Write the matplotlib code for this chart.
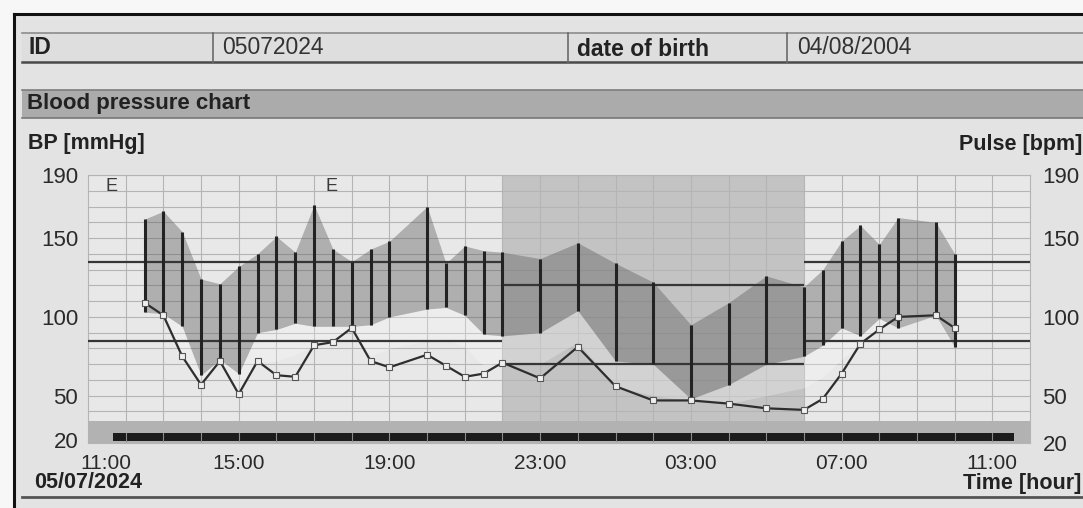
import numpy as np
import matplotlib
matplotlib.use("Agg")
import matplotlib.pyplot as plt
from matplotlib.patches import Rectangle
from matplotlib.lines import Line2D
from matplotlib.transforms import ScaledTranslation

plt.rcParams['font.family'] = ['Liberation Sans', 'DejaVu Sans']

# ---------------- data ----------------
times = ["12:30", "13:00", "13:30", "14:00", "14:30", "15:00", "15:30", "16:00",
         "16:30", "17:00", "17:30", "18:00", "18:30", "19:00", "20:00", "20:30",
         "21:00", "21:30", "22:00", "23:00", "00:00", "01:00", "02:00", "03:00",
         "04:00", "05:00", "06:00", "06:30", "07:00", "07:30", "08:00", "08:30",
         "09:30", "10:00"]
systolic = [162, 167, 154, 124, 121, 132, 140, 151, 141, 171, 143, 135, 143, 148,
            170, 134, 145, 142, 141, 137, 147, 134, 122, 95, 109, 126, 119, 130,
            148, 158, 146, 163, 160, 140]
diastolic = [103, 102, 94, 63, 73, 64, 90, 92, 96, 94, 94, 94, 95, 100,
             105, 106, 101, 89, 88, 90, 104, 72, 70, 48, 57, 70, 75, 82,
             93, 88, 99, 93, 101, 81]
pulse = [109, 101, 75, 57, 72, 51, 72, 63, 62, 82, 84, 93, 72, 68,
         76, 69, 62, 64, 71, 61, 81, 56, 47, 47, 45, 42, 41, 48,
         64, 83, 92, 100, 101, 93]
error_times = ["11:38", "17:28"]

x_tick_labels = ["11:00", "15:00", "19:00", "23:00", "03:00", "07:00", "11:00"]
y_ticks = [20, 50, 100, 150, 190]

night_start, night_end = "22:00", "06:00"
day_limits = (135, 85)
night_limits = (120, 70)
recording_start, recording_end = "11:40", "11:35"

patient_id = "05072024"
birth_date = "04/08/2004"
chart_date = "05/07/2024"

START_HOUR = 11


def hours(t):
    h, m = map(int, t.split(":"))
    v = h + m / 60 - START_HOUR
    if v < 0:
        v += 24
    return v


x = np.array([hours(t) for t in times])
sys_a = np.array(systolic, float)
dia_a = np.array(diastolic, float)
pul_a = np.array(pulse, float)

W, H = 1083, 508
fig = plt.figure(figsize=(W / 100, H / 100), dpi=100)
fig.patch.set_facecolor("#f7f7f7")


def fx(px):
    return px / W


def fy(py):
    return 1 - py / H


# page background with black frame
fig.add_artist(Rectangle((fx(14), 0), fx(W) - fx(14), fy(14), transform=fig.transFigure,
                         facecolor="#e3e3e3", edgecolor="none", zorder=0))
fig.add_artist(Line2D([fx(14), 1], [fy(14), fy(14)], transform=fig.transFigure,
                      color="#111111", lw=2.2))
fig.add_artist(Line2D([fx(14), fx(14)], [0, fy(14)], transform=fig.transFigure,
                      color="#111111", lw=2.2))

# info row
fig.add_artist(Rectangle((fx(22), fy(62)), 1 - fx(22), fy(33) - fy(62), transform=fig.transFigure,
                         facecolor="#dedede", edgecolor="none", zorder=1))
fig.add_artist(Line2D([fx(22), 1], [fy(33), fy(33)], transform=fig.transFigure, color="#8c8c8c", lw=1.2))
fig.add_artist(Line2D([fx(22), 1], [fy(62), fy(62)], transform=fig.transFigure, color="#4a4a4a", lw=1.8))
for sx in (213, 568, 787):
    fig.add_artist(Line2D([fx(sx), fx(sx)], [fy(62), fy(33)], transform=fig.transFigure,
                          color="#6a6a6a", lw=1.2))
txt_kw = dict(transform=fig.transFigure, va="center", color="#222222", fontsize=16.5)
fig.text(fx(28), fy(48), "ID", fontweight="bold", **txt_kw)
fig.text(fx(222), fy(48), patient_id, **dict(txt_kw, color="#333333"))
fig.text(fx(577), fy(49), "date of birth", fontweight="bold", **txt_kw)
fig.text(fx(797), fy(48), birth_date, **dict(txt_kw, color="#333333"))

# header band
fig.add_artist(Rectangle((fx(22), fy(118)), 1 - fx(22), fy(90) - fy(118), transform=fig.transFigure,
                         facecolor="#ababab", edgecolor="none", zorder=1))
fig.add_artist(Line2D([fx(22), 1], [fy(90), fy(90)], transform=fig.transFigure, color="#7e7e7e", lw=1.2))
fig.add_artist(Line2D([fx(22), 1], [fy(118), fy(118)], transform=fig.transFigure, color="#777777", lw=1.2))
fig.text(fx(27), fy(104), "Blood pressure chart", fontweight="bold", **dict(txt_kw, fontsize=16))

fig.text(fx(28), fy(144), "BP [mmHg]", fontweight="bold", **dict(txt_kw, fontsize=15.5))
fig.text(fx(1082), fy(145), "Pulse [bpm]", fontweight="bold", ha="right", **dict(txt_kw, fontsize=15.5))
fig.text(fx(34), fy(483), chart_date, fontweight="bold", **dict(txt_kw, fontsize=15.5))
fig.text(fx(1081), fy(483), "Time [hour]", fontweight="bold", ha="right", **dict(txt_kw, fontsize=15.5))

fig.add_artist(Line2D([fx(22), 1], [fy(497), fy(497)], transform=fig.transFigure, color="#555555", lw=2.0))

# ---------------- chart ----------------
ax = fig.add_axes([fx(88), fy(443), fx(1030) - fx(88), fy(175) - fy(443)])
ax.set_facecolor("#e8e8e8")
ax.set_xlim(0, 25)
ax.set_ylim(20, 190)

ns, ne = hours(night_start), hours(night_end)
ax.axvspan(ns, ne, color="#c3c3c3", lw=0, zorder=0.5)

for v in range(30, 191, 10):
    ax.axhline(v, color="#b4b4b4", lw=0.8, zorder=1)
for h in range(1, 25):
    ax.axvline(h, color="#b4b4b4", lw=0.8, zorder=1)

# lighter band under the diastolic edge
lower = np.maximum(pul_a, dia_a - 20)
ax.fill_between(x, lower, dia_a, color="white", alpha=0.25, lw=0, zorder=2)
# systolic / diastolic range
ax.fill_between(x, dia_a, sys_a, color="#606060", alpha=0.42, lw=0, zorder=3)

# bottom band with recording bar
ax.axhspan(20, 34, color="#b2b2b2", lw=0, zorder=4)
rs, re_ = hours(recording_start), hours(recording_end) + 24
ax.add_patch(Rectangle((rs, 21.5), re_ - rs, 5, facecolor="#1c1c1c", edgecolor="none", zorder=5))
for h in range(1, 25):
    ax.plot([h, h], [21.5, 26.5], color="#8a8a8a", lw=0.8, zorder=6)

# limit lines
ax.hlines(day_limits, 0, ns, color="#363636", lw=1.6, zorder=6)
ax.hlines(night_limits, ns, ne, color="#363636", lw=1.6, zorder=6)
ax.hlines(day_limits, ne, 25, color="#363636", lw=1.6, zorder=6)

# measurement bars
ax.vlines(x, dia_a, sys_a, color="#232323", lw=2.2, zorder=7)

# pulse
ax.plot(x, pul_a, color="#2e2e2e", lw=1.6, marker="s", ms=4.2, mfc="#efefef",
        mec="#555555", mew=0.8, zorder=8)

# error markers
for t in error_times:
    ax.text(hours(t), 182.5, "E", ha="center", va="center", fontsize=13, color="#3a3a3a", zorder=9)

for s in ax.spines.values():
    s.set_color("#b4b4b4")
    s.set_linewidth(0.8)

ax.set_xticks(np.arange(0, 25, 4))
ax.set_xticklabels(x_tick_labels, fontsize=15, color="#2a2a2a")
ax.set_yticks(y_ticks)
ax.set_yticklabels([str(v) for v in y_ticks], fontsize=16, color="#2a2a2a")
ax.tick_params(axis="both", length=0)
ax.tick_params(axis="x", pad=8)
ax.tick_params(axis="y", pad=7)

# first time label sits to the right of the axis corner
first = ax.get_xticklabels()[0]
first.set_horizontalalignment("left")
first.set_transform(first.get_transform() + ScaledTranslation(-0.08, 0, fig.dpi_scale_trans))

# bottom "20" label nudged up slightly
ylabs = ax.get_yticklabels()
ylabs[0].set_transform(ylabs[0].get_transform() + ScaledTranslation(0, 0.03, fig.dpi_scale_trans))

ax2 = ax.twinx()
ax2.set_ylim(20, 190)
ax2.set_yticks(y_ticks)
ax2.set_yticklabels([str(v) for v in y_ticks], fontsize=16, color="#2a2a2a")
ax2.tick_params(axis="y", length=0, pad=9)
for s in ax2.spines.values():
    s.set_visible(False)

fig.savefig("out.png", dpi=100, facecolor=fig.get_facecolor())
